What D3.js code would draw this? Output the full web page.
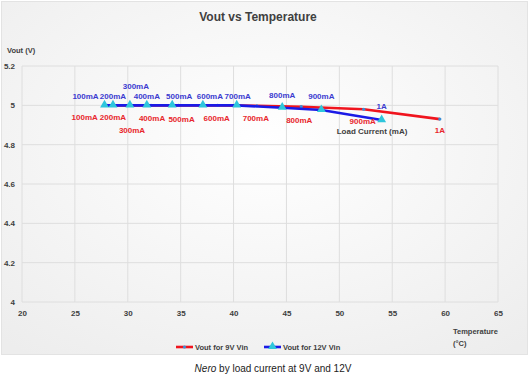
<!DOCTYPE html>
<html><head><meta charset="utf-8">
<script src="https://cdn.jsdelivr.net/npm/d3@7"></script>
<style>
html,body{margin:0;padding:0;background:#fff;}
svg{display:block;font-family:"Liberation Sans",Arial,sans-serif;}
</style></head>
<body><svg id="c" width="531" height="379"></svg>
<script>
// ---- data ----
const loadLabels = ["100mA","200mA","300mA","400mA","500mA","600mA","700mA","800mA","900mA","1A"];
const temp9V  = [28.1, 28.6, 30.4, 32.2, 34.8, 38.5, 42.2, 46.4, 52.3, 59.5];
const vout9V  = [5.0, 5.0, 5.0, 5.0, 5.0, 5.0, 4.998, 4.993, 4.98, 4.93];
const temp12V = [27.8, 28.6, 30.2, 31.8, 34.2, 37.1, 40.3, 44.6, 48.3, 54.0];
const vout12V = [5.0, 5.0, 5.0, 5.0, 5.0, 5.0, 5.0, 4.988, 4.976, 4.925];
const xTicks = [20,25,30,35,40,45,50,55,60,65];
const yTicks = [4,4.2,4.4,4.6,4.8,5,5.2];
const seriesNames = ["Vout for 9V Vin","Vout for 12V Vin"];

// label layout offsets (dx, dy) relative to each point
const lab12 = [[-19,-9],[0,-9],[6,-19],[0,-9],[7,-9],[7,-9],[1,-9],[0,-12],[0,-14],[0,-14]];
const lab9  = [[-23,12],[0,12],[0,25],[1,13],[3,14],[-1,13],[-1,12],[-2,13],[-1,12],[0,11]];

const svg = d3.select("#c");
const defs = svg.append("defs");
const rg = defs.append("radialGradient").attr("id","bg").attr("cx","50%").attr("cy","40%").attr("r","75%");
rg.append("stop").attr("offset","0%").attr("stop-color","#ffffff");
rg.append("stop").attr("offset","100%").attr("stop-color","#ededed");

svg.append("rect").attr("x",1.5).attr("y",1.5).attr("width",526).attr("height",353)
  .attr("fill","url(#bg)").attr("stroke","#e3e3e3");

const x = d3.scaleLinear().domain([20,65]).range([22,498]);
const y = d3.scaleLinear().domain([4,5.2]).range([302,66]);

// gridlines
svg.append("g").selectAll("line").data(yTicks).join("line")
  .attr("x1",x(20)).attr("x2",x(65)).attr("y1",d=>y(d)).attr("y2",d=>y(d))
  .attr("stroke","#dedede").attr("stroke-width",1);
svg.append("g").selectAll("line").data(xTicks).join("line")
  .attr("y1",y(4)).attr("y2",y(5.2)).attr("x1",d=>x(d)).attr("x2",d=>x(d))
  .attr("stroke","#dedede").attr("stroke-width",1);

// axes via d3 axis
const gx = svg.append("g").attr("transform",`translate(0,${y(4)})`)
  .call(d3.axisBottom(x).tickValues(xTicks).tickSize(0).tickPadding(8).tickFormat(d3.format("d")));
const gy = svg.append("g").attr("transform",`translate(${x(20)},0)`)
  .call(d3.axisLeft(y).tickValues(yTicks).tickSize(0).tickPadding(7).tickFormat(d=>d3.format("")(+d.toFixed(1))));
[gx,gy].forEach(g=>{
  g.select(".domain").remove();
  g.selectAll("text").attr("font-family","'Liberation Sans',Arial,sans-serif")
   .attr("font-size",8).attr("font-weight","bold").attr("fill","#404040");
});
gy.selectAll("text").attr("dy","0.32em");

// title
svg.append("text").attr("x",258).attr("y",21).attr("text-anchor","middle")
  .attr("font-size",12).attr("font-weight","bold").attr("fill","#404040").text("Vout vs Temperature");
svg.append("text").attr("x",7).attr("y",53).attr("font-size",7.5).attr("font-weight","bold")
  .attr("fill","#404040").text("Vout (V)");
svg.append("text").attr("x",453).attr("y",334).attr("font-size",7.5).attr("font-weight","bold")
  .attr("fill","#404040").text("Temperature");
svg.append("text").attr("x",453).attr("y",346).attr("font-size",7.5).attr("font-weight","bold")
  .attr("fill","#404040").text("(°C)");

const line = d3.line().x(d=>x(d[0])).y(d=>y(d[1]));
const d9 = temp9V.map((t,i)=>[t,vout9V[i]]);
const d12 = temp12V.map((t,i)=>[t,vout12V[i]]);

svg.append("path").datum(d9).attr("d",line).attr("fill","none").attr("stroke","#f0141e").attr("stroke-width",2.6);
svg.append("g").selectAll("circle").data(d9).join("circle")
  .attr("cx",d=>x(d[0])).attr("cy",d=>y(d[1])).attr("r",1.6).attr("fill","#3a8fd6");

svg.append("path").datum(d12).attr("d",line).attr("fill","none").attr("stroke","#1a1ae6").attr("stroke-width",2.6);
const tri = d3.symbol().type(d3.symbolTriangle).size(34);
svg.append("g").selectAll("path").data(d12).join("path")
  .attr("d",tri).attr("transform",d=>`translate(${x(d[0])},${y(d[1])-0.5})`).attr("fill","#2ec6dc");

// data labels
svg.append("g").selectAll("text").data(d12).join("text")
  .attr("x",(d,i)=>x(d[0])+lab12[i][0]).attr("y",(d,i)=>y(d[1])+lab12[i][1])
  .attr("dy","0.35em").attr("text-anchor","middle").attr("font-size",8).attr("font-weight","bold")
  .attr("fill","#3b3bd0").text((d,i)=>loadLabels[i]);
svg.append("g").selectAll("text").data(d9).join("text")
  .attr("x",(d,i)=>x(d[0])+lab9[i][0]).attr("y",(d,i)=>y(d[1])+lab9[i][1])
  .attr("dy","0.35em").attr("text-anchor","middle").attr("font-size",8).attr("font-weight","bold")
  .attr("fill","#e8262c").text((d,i)=>loadLabels[i]);

svg.append("text").attr("x",372).attr("y",131).attr("dy","0.35em").attr("text-anchor","middle")
  .attr("font-size",8).attr("font-weight","bold").attr("fill","#404040").text("Load Current (mA)");

// legend
const lg = svg.append("g");
const ly = 347;
lg.append("line").attr("x1",176).attr("x2",193).attr("y1",ly).attr("y2",ly).attr("stroke","#f0141e").attr("stroke-width",2.6);
lg.append("circle").attr("cx",184.5).attr("cy",ly).attr("r",1.6).attr("fill","#3a8fd6");
lg.append("text").attr("x",195).attr("y",ly).attr("dy","0.35em").attr("font-size",7.5).attr("font-weight","bold").attr("fill","#404040").text(seriesNames[0]);
lg.append("line").attr("x1",264).attr("x2",281).attr("y1",ly).attr("y2",ly).attr("stroke","#1a1ae6").attr("stroke-width",2.6);
lg.append("path").attr("d",tri).attr("transform",`translate(272.5,${ly-0.5})`).attr("fill","#2ec6dc");
lg.append("text").attr("x",283).attr("y",ly).attr("dy","0.35em").attr("font-size",7.5).attr("font-weight","bold").attr("fill","#404040").text(seriesNames[1]);

// caption
const cap = svg.append("text").attr("x",273).attr("y",372).attr("text-anchor","middle")
  .attr("font-size",10).attr("fill","#222");
cap.append("tspan").attr("font-style","italic").text("Nero");
cap.append("tspan").text(" by load current at 9V and 12V");
</script></body></html>
